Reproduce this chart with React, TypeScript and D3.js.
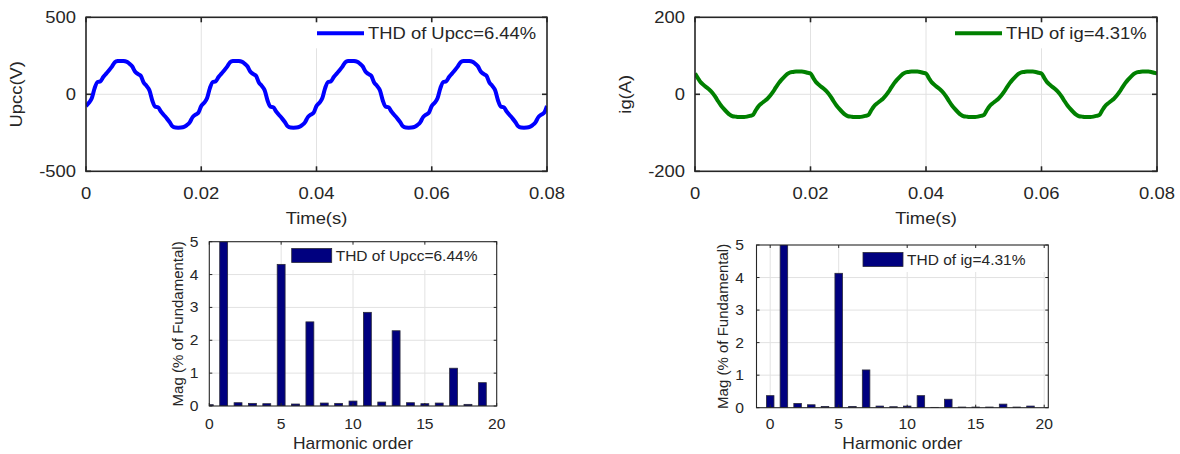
import * as d3 from 'd3'

const sampleStep = 0.0005
const upccValues = [
  -76, -55, -26, 40, 80, 84, 112, 134, 156, 180, 208, 216, 217, 216, 212, 200, 182, 148, 132, 120,
  76, 55, 26, -40, -80, -84, -112, -134, -156, -180, -208, -216, -217, -216, -212, -200, -182, -148, -132, -120,
  -76, -55, -26, 40, 80, 84, 112, 134, 156, 180, 208, 216, 217, 216, 212, 200, 182, 148, 132, 120,
  76, 55, 26, -40, -80, -84, -112, -134, -156, -180, -208, -216, -217, -216, -212, -200, -182, -148, -132, -120,
  -76, -55, -26, 40, 80, 84, 112, 134, 156, 180, 208, 216, 217, 216, 212, 200, 182, 148, 132, 120,
  76, 55, 26, -40, -80, -84, -112, -134, -156, -180, -208, -216, -217, -216, -212, -200, -182, -148, -132, -120,
  -76, -55, -26, 40, 80, 84, 112, 134, 156, 180, 208, 216, 217, 216, 212, 200, 182, 148, 132, 120,
  76, 55, 26, -40, -80, -84, -112, -134, -156, -180, -208, -216, -217, -216, -212, -200, -182, -148, -132, -120,
  -76,
]
const igValues = [
  54, 42, 31, 24, 18, 12, 4, -6, -18, -29, -38, -46, -53, -57, -58, -59, -59, -59, -58, -56,
  -54, -42, -31, -24, -18, -12, -4, 6, 18, 29, 38, 46, 53, 57, 58, 59, 59, 59, 58, 56,
  54, 42, 31, 24, 18, 12, 4, -6, -18, -29, -38, -46, -53, -57, -58, -59, -59, -59, -58, -56,
  -54, -42, -31, -24, -18, -12, -4, 6, 18, 29, 38, 46, 53, 57, 58, 59, 59, 59, 58, 56,
  54, 42, 31, 24, 18, 12, 4, -6, -18, -29, -38, -46, -53, -57, -58, -59, -59, -59, -58, -56,
  -54, -42, -31, -24, -18, -12, -4, 6, 18, 29, 38, 46, 53, 57, 58, 59, 59, 59, 58, 56,
  54, 42, 31, 24, 18, 12, 4, -6, -18, -29, -38, -46, -53, -57, -58, -59, -59, -59, -58, -56,
  -54, -42, -31, -24, -18, -12, -4, 6, 18, 29, 38, 46, 53, 57, 58, 59, 59, 59, 58, 56,
  54,
]
const timeTicks = [0, 0.02, 0.04, 0.06, 0.08]
const timeTickLabels = ['0', '0.02', '0.04', '0.06', '0.08']
const upccTicks = [-500, 0, 500]
const igTicks = [-200, 0, 200]

// FFT spectra, % of fundamental
const harmonics = [0, 1, 2, 3, 4, 5, 6, 7, 8, 9, 10, 11, 12, 13, 14, 15, 16, 17, 18, 19]
const upccMag = [0.04, 100, 0.1, 0.08, 0.07, 4.31, 0.06, 2.56, 0.09, 0.08, 0.15, 2.85, 0.12, 2.29, 0.1, 0.07, 0.09, 1.15, 0.05, 0.71]
const igMag = [0.37, 100, 0.13, 0.09, 0.04, 4.13, 0.04, 1.16, 0.05, 0.03, 0.05, 0.37, 0.01, 0.26, 0.02, 0.02, 0.02, 0.11, 0.02, 0.05]
const harmTicks = [0, 5, 10, 15, 20]
const magTicks = [0, 1, 2, 3, 4, 5]

const FONT = '"Liberation Sans", Arial, Helvetica, sans-serif'
const AX = '#262626'
const GRID = '#e2e2e2'

function Label({ x, y, text, size, anchor = 'middle', sx = 1, rot = 0 }: any) {
  return (
    <text
      transform={`translate(${x},${y}) rotate(${rot}) scale(${sx},1)`}
      textAnchor={anchor}
      fontSize={size}
      fontFamily={FONT}
      fill={AX}
    >
      {text}
    </text>
  )
}

function TimePanel({ id, box, values, yDomain, yTicks, yLabel, yLabelX, color, legend }: any) {
  const { x0, x1, y0, y1 } = box
  const x = d3.scaleLinear().domain([0, 0.08]).range([x0, x1])
  const y = d3.scaleLinear().domain(yDomain).range([y1, y0])
  const line = d3
    .line<number>()
    .x((_, i) => x(i * sampleStep))
    .y(d => y(d))
    .curve(d3.curveMonotoneX)
  const sx = 1.15
  return (
    <g>
      <clipPath id={id}>
        <rect x={x0} y={y0} width={x1 - x0} height={y1 - y0} />
      </clipPath>
      {timeTicks.slice(1, -1).map(t => (
        <line key={t} x1={x(t)} x2={x(t)} y1={y0} y2={y1} stroke={GRID} />
      ))}
      <line x1={x0} x2={x1} y1={y(0)} y2={y(0)} stroke={GRID} />
      <path d={line(values) ?? ''} fill="none" stroke={color} strokeWidth={4} strokeLinejoin="round" clipPath={`url(#${id})`} />
      <rect x={legend.bx0} y={y0 + 1} width={legend.bx1 - legend.bx0} height={30} fill="#fff" />
      <line x1={legend.lx0} x2={legend.lx1} y1={33.3} y2={33.3} stroke={color} strokeWidth={4} />
      <Label x={legend.tx} y={39.2} text={legend.text} size={16} anchor="start" sx={sx} />
      <rect x={x0} y={y0} width={x1 - x0} height={y1 - y0} fill="none" stroke={AX} strokeWidth={1.6} />
      {timeTicks.map(t => (
        <g key={t}>
          <line x1={x(t)} x2={x(t)} y1={y1} y2={y1 - 5} stroke={AX} strokeWidth={1.6} />
          <line x1={x(t)} x2={x(t)} y1={y0} y2={y0 + 5} stroke={AX} strokeWidth={1.6} />
        </g>
      ))}
      {yTicks.map((v: number) => (
        <g key={v}>
          <line x1={x0} x2={x0 + 5} y1={y(v)} y2={y(v)} stroke={AX} strokeWidth={1.6} />
          <line x1={x1} x2={x1 - 5} y1={y(v)} y2={y(v)} stroke={AX} strokeWidth={1.6} />
          <Label x={x0 - 10} y={y(v) + 6} text={String(v)} size={16} anchor="end" sx={sx} />
        </g>
      ))}
      {timeTicks.map((t, i) => (
        <Label key={t} x={x(t)} y={199} text={timeTickLabels[i]} size={16} sx={sx} />
      ))}
      <Label x={(x0 + x1) / 2} y={224} text="Time(s)" size={16} sx={sx} />
      <Label x={yLabelX} y={(y0 + y1) / 2} text={yLabel} size={16} rot={-90} sx={sx} />
    </g>
  )
}

function BarPanel({ id, box, mags, xDomain, xGrid, yLabelX, tickRight, legend }: any) {
  const { x0, x1, y0, y1 } = box
  const x = d3.scaleLinear().domain(xDomain).range([x0, x1])
  const y = d3.scaleLinear().domain([0, 5]).range([y1, y0])
  const barW = 0.55
  return (
    <g>
      <clipPath id={id}>
        <rect x={x0} y={y0} width={x1 - x0} height={y1 - y0} />
      </clipPath>
      {xGrid.map((v: number) => (
        <line key={v} x1={x(v)} x2={x(v)} y1={y0} y2={y1} stroke={GRID} />
      ))}
      {magTicks.slice(1, -1).map(v => (
        <line key={v} x1={x0} x2={x1} y1={y(v)} y2={y(v)} stroke={GRID} />
      ))}
      <g clipPath={`url(#${id})`}>
        {harmonics.map((h, i) => {
          const top = y(Math.min(mags[i], 5.3))
          return (
            <rect
              key={h}
              x={x(h - barW / 2)}
              y={top}
              width={x(h + barW / 2) - x(h - barW / 2)}
              height={y1 - top}
              fill="#00007f"
              stroke="#2a2a3a"
              strokeWidth={0.8}
            />
          )
        })}
      </g>
      <rect x={legend.bx0} y={legend.by0} width={legend.bx1 - legend.bx0} height={legend.by1 - legend.by0} fill="#fff" />
      <rect x={legend.sx0} y={legend.sy0} width={40} height={14} fill="#00007f" stroke="#2a2a3a" strokeWidth={0.8} />
      <Label x={legend.sx0 + 44} y={legend.sy0 + 12.5} text={legend.text} size={15.5} anchor="start" />
      <rect x={x0} y={y0} width={x1 - x0} height={y1 - y0} fill="none" stroke={AX} strokeWidth={1.1} />
      {harmTicks.map(t => (
        <g key={t}>
          <line x1={x(t)} x2={x(t)} y1={y1} y2={y1 - 3} stroke={AX} />
          <line x1={x(t)} x2={x(t)} y1={y0} y2={y0 + 3} stroke={AX} />
          <Label x={x(t)} y={429} text={String(t)} size={14.5} sx={1.08} />
        </g>
      ))}
      {magTicks.map(v => (
        <g key={v}>
          <line x1={x0} x2={x0 + 3} y1={y(v)} y2={y(v)} stroke={AX} />
          <line x1={x1} x2={x1 - 3} y1={y(v)} y2={y(v)} stroke={AX} />
          <Label x={tickRight} y={y(v) + 5} text={String(v)} size={14.5} anchor="end" sx={1.08} />
        </g>
      ))}
      <Label x={(x0 + x1) / 2} y={449} text="Harmonic order" size={16} sx={1.09} />
      <Label x={yLabelX} y={(y0 + y1) / 2} text="Mag (% of Fundamental)" size={15} rot={-90} />
    </g>
  )
}

export default function App() {
  return (
    <svg width={1180} height={454} style={{ position: 'absolute', left: 0, top: 0, background: '#fff' }}>
      <TimePanel
        id="clipU"
        box={{ x0: 86, x1: 547, y0: 17.3, y1: 171.3 }}
        values={upccValues}
        yDomain={[-500, 500]}
        yTicks={upccTicks}
        yLabel="Upcc(V)"
        yLabelX={22}
        color="#0000ff"
        legend={{ bx0: 312, bx1: 545, lx0: 317, lx1: 364, tx: 368, text: 'THD of Upcc=6.44%' }}
      />
      <TimePanel
        id="clipI"
        box={{ x0: 695, x1: 1157, y0: 17.3, y1: 171.3 }}
        values={igValues}
        yDomain={[-200, 200]}
        yTicks={igTicks}
        yLabel="ig(A)"
        yLabelX={631}
        color="#008000"
        legend={{ bx0: 945, bx1: 1155, lx0: 955, lx1: 1002, tx: 1006, text: 'THD of ig=4.31%' }}
      />
      <BarPanel
        id="clipBU"
        box={{ x0: 209.3, x1: 496.7, y0: 241.7, y1: 406 }}
        mags={upccMag}
        xDomain={[0, 20]}
        xGrid={[5, 10, 15]}
        yLabelX={183}
        tickRight={198.5}
        legend={{ bx0: 287, bx1: 492, by0: 243, by1: 270, sx0: 291.7, sy0: 248.5, text: 'THD of Upcc=6.44%' }}
      />
      <BarPanel
        id="clipBI"
        box={{ x0: 756.5, x1: 1048.3, y0: 245, y1: 407.7 }}
        mags={igMag}
        xDomain={[-1, 20.3]}
        xGrid={[0, 5, 10, 15, 20]}
        yLabelX={728}
        tickRight={744}
        legend={{ bx0: 858, bx1: 1045, by0: 246.5, by1: 272, sx0: 863, sy0: 252.5, text: 'THD of ig=4.31%' }}
      />
    </svg>
  )
}
